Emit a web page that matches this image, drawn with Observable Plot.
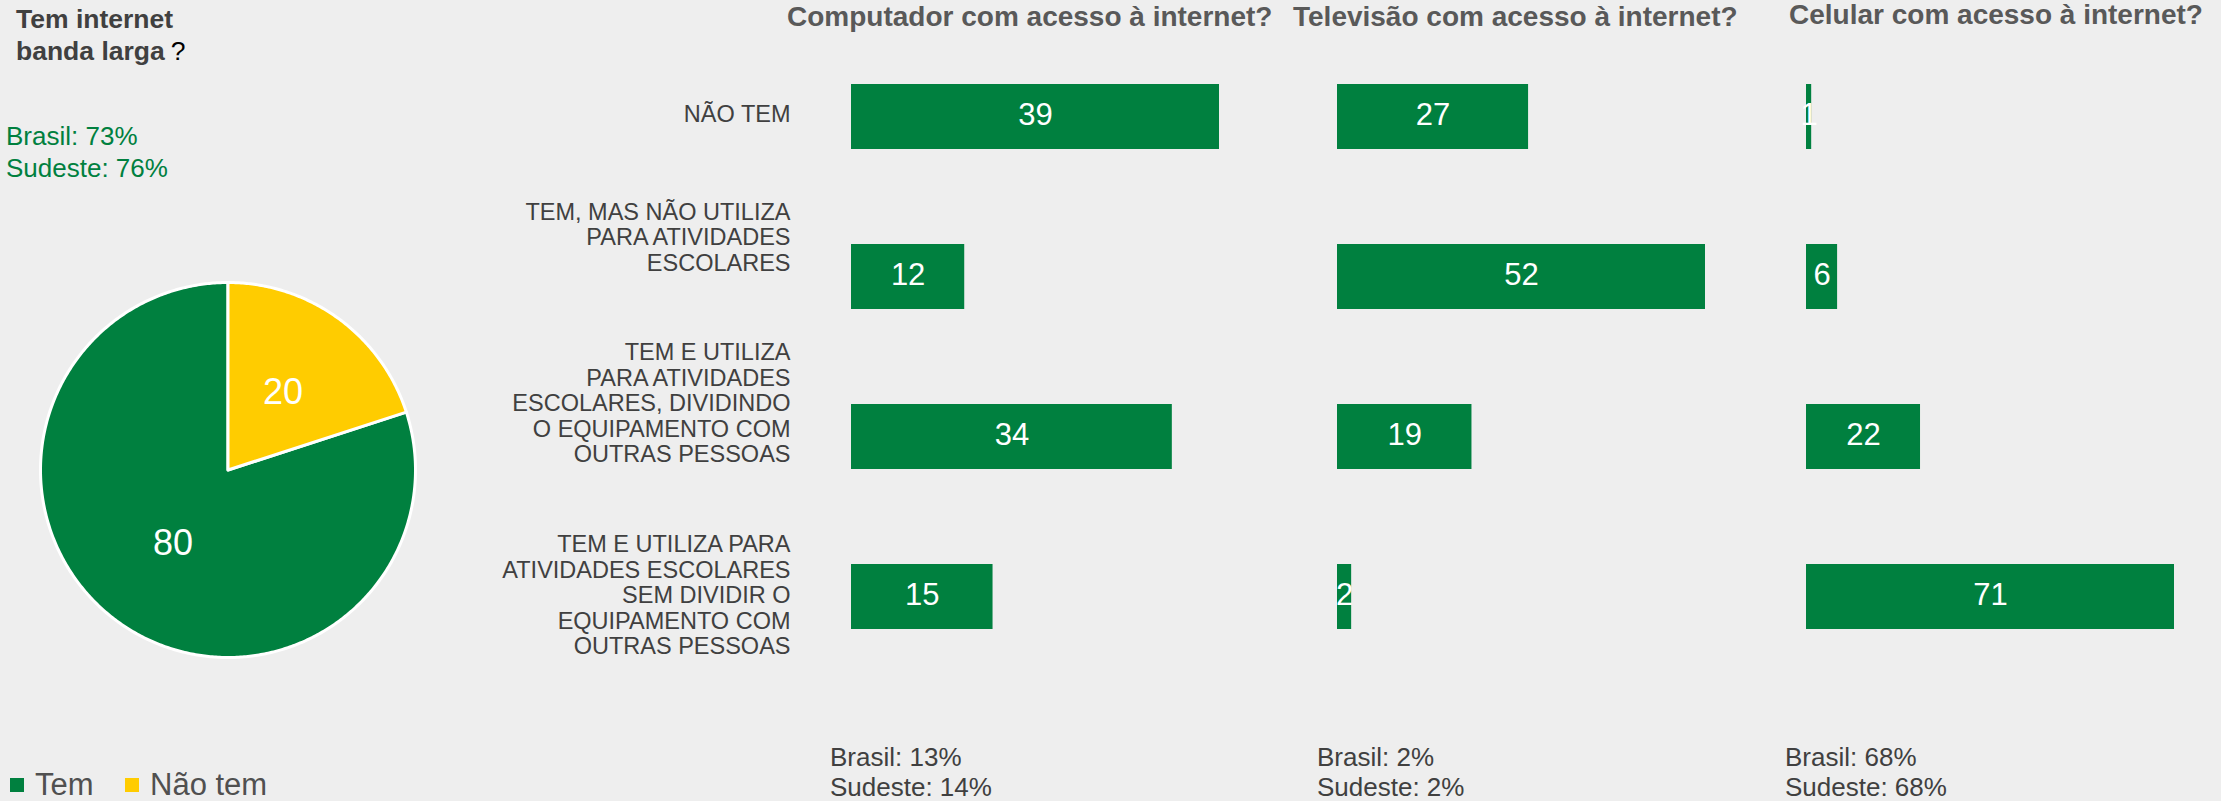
<!DOCTYPE html>
<html>
<head>
<meta charset="utf-8">
<script src="https://cdn.jsdelivr.net/npm/d3@7"></script>
<script src="https://cdn.jsdelivr.net/npm/@observablehq/plot@0.6"></script>
<style>
  html, body { margin: 0; padding: 0; background: #eeeeee; }
  #page { position: relative; width: 2221px; height: 801px; overflow: hidden; background: #eeeeee;
          font-family: "Liberation Sans", Arial, sans-serif; }
  .abs { position: absolute; white-space: nowrap; }
  .layer { position: absolute; left: 0; top: 0; }
</style>
</head>
<body>
<div id="page"></div>
<script>
// ---------- data ----------
const categories = [
  "NÃO TEM",
  "TEM, MAS NÃO UTILIZA\nPARA ATIVIDADES\nESCOLARES",
  "TEM E UTILIZA\nPARA ATIVIDADES\nESCOLARES, DIVIDINDO\nO EQUIPAMENTO COM\nOUTRAS PESSOAS",
  "TEM E UTILIZA PARA\nATIVIDADES ESCOLARES\nSEM DIVIDIR O\nEQUIPAMENTO COM\nOUTRAS PESSOAS"
];
const computador = [39, 12, 34, 15];
const televisao = [27, 52, 19, 2];
const celular = [1, 6, 22, 71];
const panelTitles = [
  "Computador com acesso à internet?",
  "Televisão com acesso à internet?",
  "Celular com acesso à internet?"
];
const brasilPct = [13, 2, 68];
const sudestePct = [14, 2, 68];

const pieLabels = ["Tem", "Não tem"];
const pieValues = [80, 20];
const bandaBrasil = 73;
const bandaSudeste = 76;

// ---------- style ----------
const GREEN = "#00803F";
const YELLOW = "#FFCC00";
const GRAY = "#404040";
const FONT = '"Liberation Sans", Arial, sans-serif';
const page = document.getElementById("page");

function addLayer(node) {
  const d = document.createElement("div");
  d.className = "layer";
  d.appendChild(node);
  page.appendChild(d);
}
function addText(html, css) {
  const d = document.createElement("div");
  d.className = "abs";
  d.innerHTML = html;
  Object.assign(d.style, css);
  page.appendChild(d);
  return d;
}

// ---------- bar panels ----------
const panels = [
  {values: computador, max: d3.max(computador), left: 851, labels: true},
  {values: televisao, max: d3.max(televisao), left: 1337, labels: false},
  {values: celular, max: d3.max(celular), left: 1806, labels: false}
];
const labelDy = [-3, -40, -34, -2];
const BAR_SPAN = 368;

panels.forEach((p) => {
  const rows = categories.map((c, i) => ({cat: c, value: p.values[i]}));
  const marks = [
    Plot.barX(rows, {x: "value", y: "cat", fill: GREEN}),
    Plot.text(rows, {x: d => d.value / 2, y: "cat", text: d => String(d.value),
                     fill: "white", fontSize: 31, dy: -2})
  ];
  if (p.labels) {
    categories.forEach((c, i) => {
      marks.push(Plot.text([c], {y: d => d, text: d => d, frameAnchor: "left", dx: -61,
        dy: labelDy[i], textAnchor: "end", lineAnchor: "middle", fontSize: 23.5,
        lineHeight: 1.08, fill: GRAY}));
    });
  }
  const chart = Plot.plot({
    width: 2221, height: 801,
    marginLeft: p.left, marginRight: 2221 - p.left - BAR_SPAN, marginTop: 0, marginBottom: 0,
    x: {domain: [0, p.max], range: [p.left, p.left + BAR_SPAN], axis: null},
    y: {type: "band", domain: categories, range: [82, 630], paddingInner: 0.596, paddingOuter: 0, axis: null},
    style: {background: "transparent", maxWidth: "none", fontFamily: FONT, overflow: "visible"},
    marks
  });
  addLayer(chart);
});

// ---------- pie ----------
const pie = d3.pie().sort(null).startAngle(2 * Math.PI * 0.2).endAngle(2 * Math.PI * 1.2)(pieValues);
const pieShapes = [];
const pieText = [];
pie.forEach((a, i) => {
  const key = pieLabels[i];
  pieShapes.push({key, px: 0, py: 0});
  const n = Math.max(8, Math.ceil((a.endAngle - a.startAngle) / 0.01));
  for (let k = 0; k <= n; k++) {
    const t = a.startAngle + (a.endAngle - a.startAngle) * k / n;
    pieShapes.push({key, px: Math.sin(t), py: Math.cos(t)});
  }
  const mid = (a.startAngle + a.endAngle) / 2;
  pieText.push({key, value: a.data, px: 0.5 * Math.sin(mid), py: 0.5 * Math.cos(mid)});
});

const pieChart = Plot.plot({
  width: 460, height: 700, margin: 0,
  x: {domain: [-1, 1], range: [40, 415], axis: null},
  y: {domain: [-1, 1], range: [657, 282], axis: null},
  color: {domain: pieLabels, range: [GREEN, YELLOW]},
  style: {background: "transparent", maxWidth: "none", fontFamily: FONT, overflow: "visible"},
  marks: [
    Plot.line(pieShapes, {x: "px", y: "py", z: "key", fill: "key", stroke: "white",
                          strokeWidth: 3, curve: "linear-closed"}),
    Plot.text(pieText, {x: "px", y: "py", text: d => String(d.value), fill: "white", fontSize: 36, dy: -2})
  ]
});
addLayer(pieChart);

// ---------- texts ----------
addText(`<b>Tem internet<br>banda larga</b><span style="font-weight:normal;color:#000;margin-left:6px">?</span>`,
  {left: "16px", top: "3px", fontSize: "26.5px", lineHeight: "32px", color: GRAY});
addText(`Brasil: ${bandaBrasil}%<br>Sudeste: ${bandaSudeste}%`,
  {left: "6px", top: "120px", fontSize: "26px", lineHeight: "32px", color: GREEN});

const titleLefts = [787, 1293, 1789];
const titleTops = [3, 3, 1];
panelTitles.forEach((t, i) => {
  addText(t, {left: titleLefts[i] + "px", top: titleTops[i] + "px", fontSize: "28px",
              fontWeight: "bold", lineHeight: "28px", color: "#595959"});
});

const noteLefts = [830, 1317, 1785];
brasilPct.forEach((b, i) => {
  addText(`Brasil: ${b}%<br>Sudeste: ${sudestePct[i]}%`,
    {left: noteLefts[i] + "px", top: "742px", fontSize: "26px", lineHeight: "30px", color: GRAY});
});

// legend
const legendColors = [GREEN, YELLOW];
const legendLefts = [10, 125];
pieLabels.forEach((l, i) => {
  addText("", {left: legendLefts[i] + "px", top: "778px", width: "14px", height: "14px",
               background: legendColors[i]});
  addText(l, {left: (legendLefts[i] + 25) + "px", top: "769px", fontSize: "31px",
              lineHeight: "31px", color: "#505050"});
});
</script>
</body>
</html>
